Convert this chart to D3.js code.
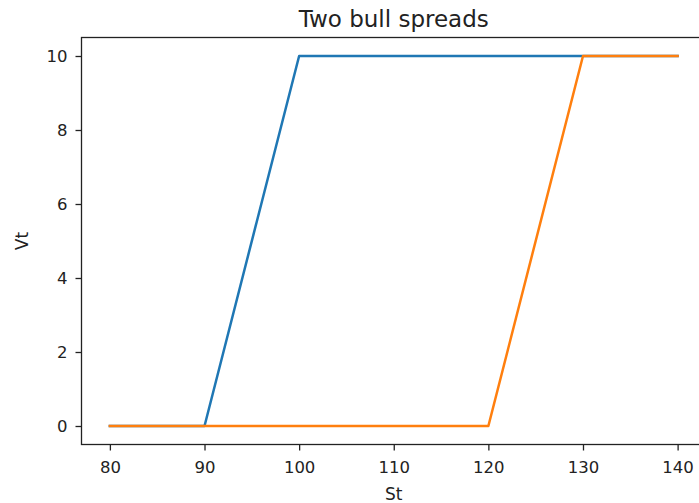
<!DOCTYPE html>
<html>
<head>
<meta charset="utf-8">
<script src="https://cdn.jsdelivr.net/npm/d3@7"></script>
<style>
  html, body { margin: 0; padding: 0; background: #fff; overflow: hidden; }
  svg { display: block; font-family: "DejaVu Sans", sans-serif; }
</style>
</head>
<body>
<svg id="chart" width="699" height="503"></svg>
<script>
// Payoff of two bull call spreads at expiry
const stPrices = [80, 90, 100, 110, 120, 130, 140];
const spreadA = [0, 0, 10, 10, 10, 10, 10];   // long 90 / short 100
const spreadB = [0, 0, 0, 0, 0, 10, 10];      // long 120 / short 130
const xTicks = [80, 90, 100, 110, 120, 130, 140];
const yTicks = [0, 2, 4, 6, 8, 10];

const svg = d3.select("#chart");
const box = { left: 81.5, top: 37.5, right: 706, bottom: 444.5 };

const x = d3.scaleLinear().domain([77, 143]).range([box.left, box.right]);
const y = d3.scaleLinear().domain([-0.5, 10.5]).range([box.bottom, box.top]);

const ink = "#222";

// lines
const line = d3.line().x((d, i) => x(stPrices[i])).y(d => y(d));
[[spreadA, "#1f77b4"], [spreadB, "#ff7f0e"]].forEach(([vals, color]) => {
  svg.append("path")
    .datum(vals)
    .attr("d", line)
    .attr("fill", "none")
    .attr("stroke", color)
    .attr("stroke-width", 2.5)
    .attr("stroke-linejoin", "round")
    .attr("stroke-linecap", "square");
});

// frame
svg.append("rect")
  .attr("x", box.left).attr("y", box.top)
  .attr("width", box.right - box.left).attr("height", box.bottom - box.top)
  .attr("fill", "none").attr("stroke", ink).attr("stroke-width", 1.3);

// axes
const xAxis = svg.append("g")
  .attr("transform", `translate(0,${box.bottom})`)
  .call(d3.axisBottom(x).tickValues(xTicks).tickSize(6).tickPadding(11).tickSizeOuter(0));
const yAxis = svg.append("g")
  .attr("transform", `translate(${box.left},0)`)
  .call(d3.axisLeft(y).tickValues(yTicks).tickSize(6).tickPadding(8).tickSizeOuter(0));

[xAxis, yAxis].forEach(g => {
  g.select(".domain").remove();
  g.selectAll(".tick line").attr("stroke", ink).attr("stroke-width", 1.3);
  g.selectAll(".tick text")
    .attr("fill", ink)
    .style("font-family", "DejaVu Sans")
    .style("font-size", "16.5px");
});

// title and axis labels
svg.append("text")
  .attr("x", (box.left + box.right) / 2).attr("y", 26.5)
  .attr("text-anchor", "middle").attr("fill", ink)
  .style("font-size", "23px")
  .text("Two bull spreads");

svg.append("text")
  .attr("x", (box.left + box.right) / 2).attr("y", 499.5)
  .attr("text-anchor", "middle").attr("fill", ink)
  .style("font-size", "17px")
  .text("St");

svg.append("text")
  .attr("transform", `translate(28,${(box.top + box.bottom) / 2}) rotate(-90)`)
  .attr("text-anchor", "middle").attr("fill", ink)
  .style("font-size", "17px")
  .text("Vt");
</script>
</body>
</html>
